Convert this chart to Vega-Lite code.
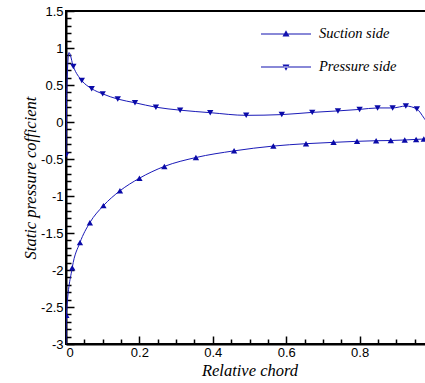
{
  "$schema": "https://vega.github.io/schema/vega-lite/v6.json",
  "autosize": {"type": "none"},
  "padding": {"left": 66, "top": 11, "right": 0, "bottom": 39},
  "width": 367,
  "height": 333,
  "background": "white",
  "data": {"values": [
    {"side": "Suction side", "x": 0, "y": -3.1},
    {"side": "Suction side", "x": 0.001, "y": -2.61},
    {"side": "Suction side", "x": 0.017, "y": -1.97},
    {"side": "Suction side", "x": 0.038, "y": -1.63},
    {"side": "Suction side", "x": 0.065, "y": -1.36},
    {"side": "Suction side", "x": 0.102, "y": -1.13},
    {"side": "Suction side", "x": 0.147, "y": -0.93},
    {"side": "Suction side", "x": 0.2, "y": -0.76},
    {"side": "Suction side", "x": 0.268, "y": -0.6},
    {"side": "Suction side", "x": 0.354, "y": -0.48},
    {"side": "Suction side", "x": 0.458, "y": -0.39},
    {"side": "Suction side", "x": 0.565, "y": -0.325},
    {"side": "Suction side", "x": 0.654, "y": -0.293},
    {"side": "Suction side", "x": 0.729, "y": -0.275},
    {"side": "Suction side", "x": 0.793, "y": -0.261},
    {"side": "Suction side", "x": 0.845, "y": -0.253},
    {"side": "Suction side", "x": 0.885, "y": -0.25},
    {"side": "Suction side", "x": 0.923, "y": -0.243},
    {"side": "Suction side", "x": 0.954, "y": -0.235},
    {"side": "Suction side", "x": 0.975, "y": -0.23},
    {"side": "Suction side", "x": 1.0, "y": -0.2},
    {"side": "Pressure side", "x": 0, "y": -0.45},
    {"side": "Pressure side", "x": 0.002, "y": 0.4},
    {"side": "Pressure side", "x": 0.008, "y": 0.94},
    {"side": "Pressure side", "x": 0.02, "y": 0.75},
    {"side": "Pressure side", "x": 0.043, "y": 0.56},
    {"side": "Pressure side", "x": 0.07, "y": 0.45},
    {"side": "Pressure side", "x": 0.1, "y": 0.38},
    {"side": "Pressure side", "x": 0.141, "y": 0.31},
    {"side": "Pressure side", "x": 0.188, "y": 0.26},
    {"side": "Pressure side", "x": 0.245, "y": 0.2},
    {"side": "Pressure side", "x": 0.311, "y": 0.16},
    {"side": "Pressure side", "x": 0.393, "y": 0.126},
    {"side": "Pressure side", "x": 0.491, "y": 0.09},
    {"side": "Pressure side", "x": 0.588, "y": 0.1},
    {"side": "Pressure side", "x": 0.671, "y": 0.13},
    {"side": "Pressure side", "x": 0.741, "y": 0.15},
    {"side": "Pressure side", "x": 0.8, "y": 0.17},
    {"side": "Pressure side", "x": 0.849, "y": 0.19},
    {"side": "Pressure side", "x": 0.89, "y": 0.19},
    {"side": "Pressure side", "x": 0.926, "y": 0.216},
    {"side": "Pressure side", "x": 0.956, "y": 0.175},
    {"side": "Pressure side", "x": 0.976, "y": 0.05},
    {"side": "Pressure side", "x": 0.99, "y": -0.05},
    {"side": "Pressure side", "x": 1.0, "y": -0.15}
  ]},
  "encoding": {
    "x": {
      "field": "x", "type": "quantitative",
      "scale": {"domain": [0, 1], "nice": false, "zero": false},
      "axis": {
        "title": "Relative chord",
        "values": [0, 0.05, 0.1, 0.15, 0.2, 0.25, 0.3, 0.35, 0.4, 0.45, 0.5, 0.55, 0.6, 0.65, 0.7, 0.75, 0.8, 0.85, 0.9, 0.95, 1],
        "labelExpr": "abs(datum.value*5 - round(datum.value*5)) < 0.01 && datum.value < 0.99 ? (datum.value + '') : ''",
        "tickSize": {"condition": {"test": "abs(datum.value*5 - round(datum.value*5)) < 0.01", "value": -8}, "value": -5},
        "labelPadding": 10,
        "titlePadding": 3
      }
    },
    "y": {
      "field": "y", "type": "quantitative",
      "scale": {"domain": [-3, 1.5], "nice": false, "zero": false},
      "axis": {
        "title": "Static pressure cofficient",
        "values": [-3, -2.9, -2.8, -2.7, -2.6, -2.5, -2.4, -2.3, -2.2, -2.1, -2, -1.9, -1.8, -1.7, -1.6, -1.5, -1.4, -1.3, -1.2, -1.1, -1, -0.9, -0.8, -0.7, -0.6, -0.5, -0.4, -0.3, -0.2, -0.1, 0, 0.1, 0.2, 0.3, 0.4, 0.5, 0.6, 0.7, 0.8, 0.9, 1, 1.1, 1.2, 1.3, 1.4, 1.5],
        "labelExpr": "abs(datum.value*2 - round(datum.value*2)) < 0.01 ? (datum.value + '') : ''",
        "tickSize": {"condition": {"test": "abs(datum.value*2 - round(datum.value*2)) < 0.01", "value": -8}, "value": -5},
        "labelPadding": 11,
        "titlePadding": 2
      }
    }
  },
  "layer": [
    {
      "mark": {"type": "line", "interpolate": "monotone", "color": "#1a1ab8", "strokeWidth": 1, "clip": true},
      "encoding": {"detail": {"field": "side"}}
    },
    {
      "transform": [{"filter": "datum.y > -3 && !(datum.side == 'Pressure side' && ((datum.x > 0 && datum.x < 0.015) || datum.x > 0.96)) && datum.x < 0.99"}],
      "mark": {"type": "point", "filled": true, "color": "#0a0aa8", "size": 40, "opacity": 1, "clip": true},
      "encoding": {
        "shape": {
          "field": "side", "type": "nominal",
          "scale": {"domain": ["Suction side", "Pressure side"], "range": ["triangle-up", "triangle-down"]},
          "legend": null
        }
      }
    },
    {
      "transform": [{"filter": "datum.x > 2"}],
      "mark": {"type": "point", "filled": true, "color": "#1212b0", "opacity": 1},
      "encoding": {
        "shape": {
          "field": "side", "type": "nominal",
          "scale": {"domain": ["Suction side", "Pressure side"], "range": ["M-1,-0.02H1V0.02H-1ZM0,-0.15L0.14,0.1L-0.14,0.1Z", "M-1,-0.02H1V0.02H-1ZM0,0.15L0.14,-0.1L-0.14,-0.1Z"]},
          "legend": {
            "title": null,
            "orient": "none",
            "legendX": 194,
            "legendY": -3,
            "padding": 0,
            "rowPadding": -11,
            "labelOffset": 7,
            "labelFont": "Liberation Serif",
            "labelFontStyle": "italic",
            "labelFontSize": 14.5,
            "labelColor": "black",
            "symbolSize": 2500
          }
        }
      }
    }
  ],
  "resolve": {"scale": {"shape": "independent"}, "legend": {"shape": "independent"}},
  "config": {
    "view": {"stroke": "black", "strokeWidth": 2},
    "axis": {
      "grid": false,
      "domainColor": "black",
      "domainWidth": 2,
      "tickColor": "black",
      "tickWidth": 1.5,
      "labelFont": "Liberation Sans",
      "labelFontSize": 13,
      "labelColor": "black",
      "titleFont": "Liberation Serif",
      "titleFontStyle": "italic",
      "titleFontWeight": "normal",
      "titleFontSize": 16.5,
      "titleColor": "black"
    }
  }
}
